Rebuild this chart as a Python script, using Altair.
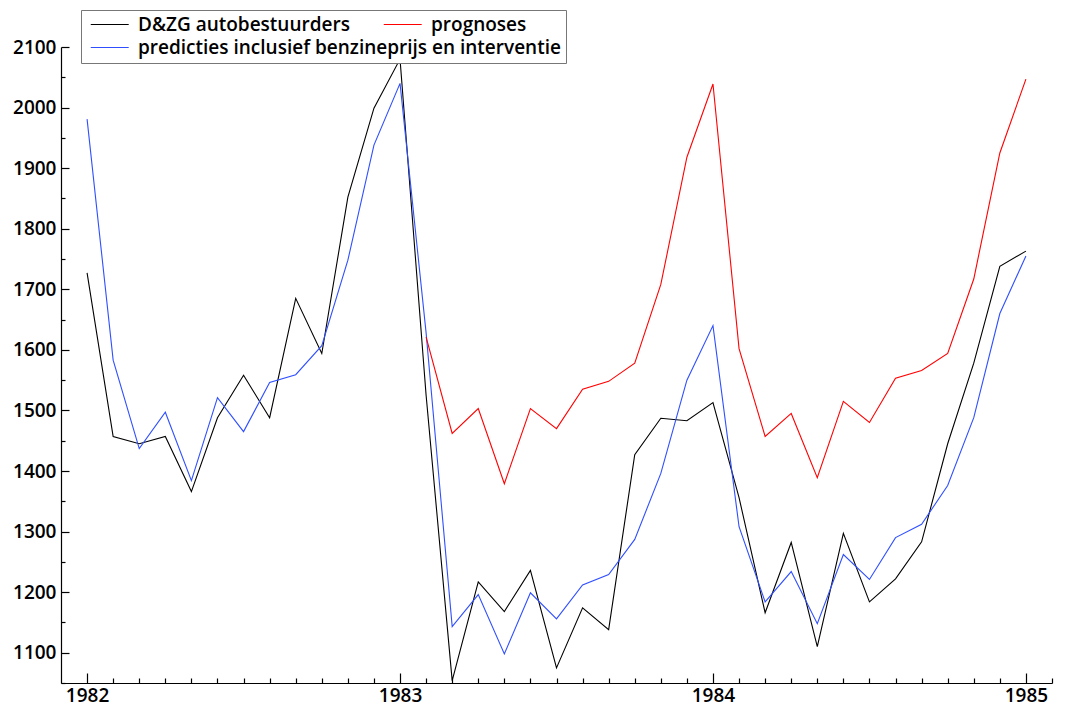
import altair as alt
import pandas as pd

# ---- data (monthly, Jan 1982 .. Jan 1985) ----
months = [1982 + i / 12 for i in range(37)]

autobestuurders = [1727, 1457, 1445, 1457, 1366, 1488, 1558, 1488, 1685, 1594, 1852, 1999,
                   2080, 1525, 1054, 1217, 1168, 1236, 1075, 1174, 1138, 1427, 1487, 1483,
                   1513, 1356, 1166, 1282, 1110, 1297, 1184, 1222, 1283, 1445, 1578, 1738,
                   1763]
predicties = [1981, 1583, 1437, 1497, 1384, 1521, 1465, 1546, 1559, 1607, 1748, 1938,
              2040, 1628, 1143, 1196, 1098, 1199, 1156, 1212, 1229, 1287, 1396, 1550,
              1640, 1308, 1184, 1234, 1148, 1262, 1221, 1290, 1312, 1376, 1488, 1660,
              1755]
prognoses_start = 13  # Feb 1983
prognoses = [1621, 1462, 1503, 1379, 1503, 1470, 1535, 1548, 1578, 1708, 1918, 2039,
             1602, 1457, 1495, 1389, 1515, 1480, 1553, 1566, 1594, 1717, 1925, 2047]

name_black = "D&ZG autobestuurders"
name_red = "prognoses"
name_blue = "predicties inclusief benzineprijs en interventie"
color_black, color_red, color_blue = "#000000", "#ff0000", "#2f4fff"

year_ticks = [1982, 1983, 1984, 1985]
month_ticks = [round(1982 + k / 12, 6) for k in range(38)]
y_labels = list(range(1100, 2101, 100))
y_ticks = list(range(1050, 2101, 50))

rows_a = []
for i, v in enumerate(autobestuurders):
    rows_a.append({"t": months[i], "v": v, "s": name_black})
for i, v in enumerate(predicties):
    rows_a.append({"t": months[i], "v": v, "s": name_blue})
df_a = pd.DataFrame(rows_a)
df_b = pd.DataFrame({"t": months[prognoses_start:prognoses_start + len(prognoses)],
                     "v": prognoses, "s": [name_red] * len(prognoses)})

FONT = "Open Sans"
W, H = 991, 636
SYMBOL_PATH = "M-1,0H7"

xscale = alt.Scale(domain=[1982 - 1 / 12, 1985 + 1 / 12], nice=False, zero=False)
yscale = alt.Scale(domain=[1050, 2100], nice=False, zero=False)

legend_common = dict(orient="none", legendY=-37, direction="vertical", title=None,
                     padding=5, symbolType=SYMBOL_PATH, symbolSize=90,
                     symbolStrokeWidth=1.2, labelFont=FONT, labelFontSize=19,
                     labelFontWeight=600, labelColor="#000000", labelLimit=1000,
                     rowPadding=3, labelOffset=33)

lines_a = alt.Chart(df_a).mark_line(strokeWidth=1.1).encode(
    x=alt.X("t:Q", scale=xscale, title=None,
            axis=alt.Axis(orient="bottom", values=year_ticks, format="d", ticks=False,
                          tickSize=0, grid=False, domainColor="#000000", domainWidth=1.2,
                          labelFont=FONT, labelFontSize=19, labelFontWeight=600,
                          labelColor="#000000", labelPadding=3, labelFlush=False)),
    y=alt.Y("v:Q", scale=yscale, title=None,
            axis=alt.Axis(orient="left", values=y_labels, format="d", ticks=False,
                          tickSize=0, grid=False, domainColor="#000000", domainWidth=1.2,
                          labelFont=FONT, labelFontSize=19, labelFontWeight=600,
                          labelColor="#000000", labelPadding=5)),
    color=alt.Color("s:N", scale=alt.Scale(domain=[name_black, name_blue],
                                           range=[color_black, color_blue]),
                    sort=[name_black, name_blue],
                    legend=alt.Legend(legendX=20, fillColor="white", strokeColor="#777777",
                                      **legend_common)),
)

lines_b = alt.Chart(df_b).mark_line(strokeWidth=1.1).encode(
    x=alt.X("t:Q", scale=xscale, axis=None),
    y=alt.Y("v:Q", scale=yscale, axis=None),
    color=alt.Color("s:N", scale=alt.Scale(domain=[name_red], range=[color_red]),
                    legend=alt.Legend(legendX=313, **legend_common)),
)

ticks = alt.Chart(df_a).mark_point(opacity=0).encode(
    x=alt.X("t:Q", scale=xscale, title=None,
            axis=alt.Axis(orient="top", offset=-H, values=month_ticks, labels=False,
                          domain=False, grid=False, tickColor="#000000", tickWidth=1.2,
                          tickSize={"condition": {"test": "abs(datum.value - round(datum.value)) < 0.001",
                                                  "value": 10}, "value": 5})),
    y=alt.Y("v:Q", scale=yscale, title=None,
            axis=alt.Axis(orient="right", offset=-W, values=y_ticks, labels=False,
                          domain=False, grid=False, tickColor="#000000", tickWidth=1.2,
                          tickSize={"condition": {"test": "datum.value % 100 == 0",
                                                  "value": 8}, "value": 4})),
)

chart = alt.layer(lines_a, lines_b, ticks).resolve_axis(
    x="independent", y="independent"
).resolve_scale(color="independent").properties(
    width=W, height=H,
    autosize=alt.AutoSizeParams(type="none"),
    padding={"left": 53, "top": 39, "right": 5, "bottom": 28},
).configure_view(stroke=None)

chart.save("out.html", embed_options={"renderer": "svg", "actions": False})
